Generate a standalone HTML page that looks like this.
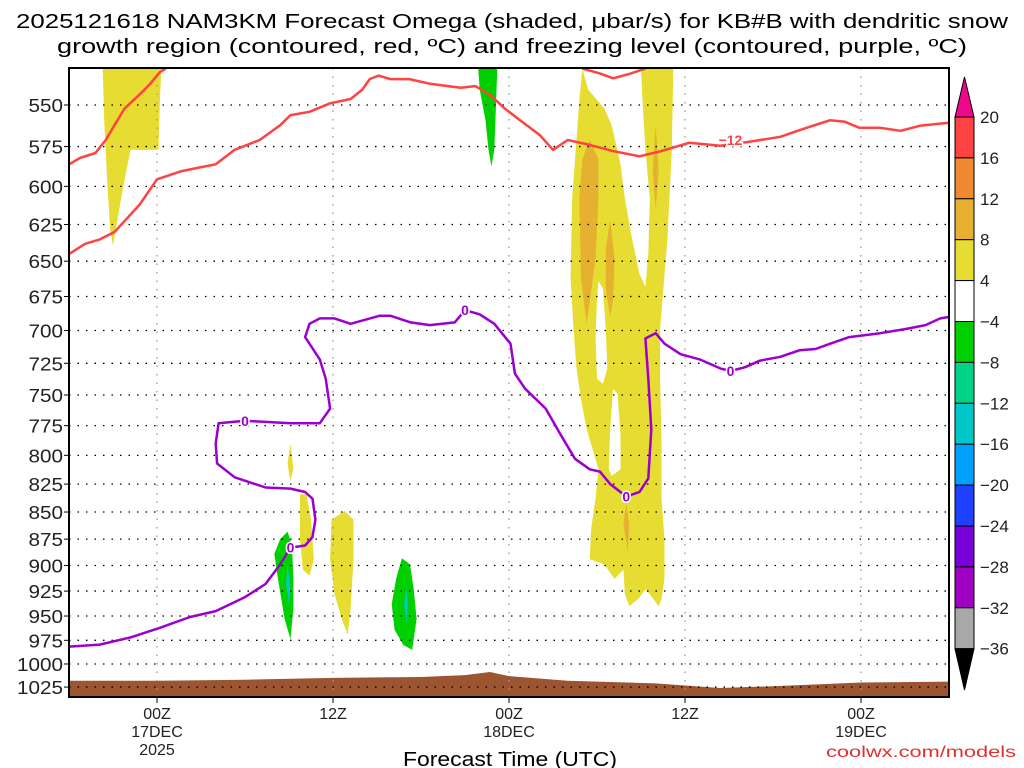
<!DOCTYPE html>
<html><head><meta charset="utf-8"><style>
html,body{margin:0;padding:0;background:#fff}
svg{display:block}
text{font-family:"Liberation Sans",sans-serif}
</style></head><body>
<svg id="chart" width="1024" height="768" xmlns="http://www.w3.org/2000/svg">
<text x="512" y="28" text-anchor="middle" font-size="20" textLength="992" lengthAdjust="spacingAndGlyphs">2025121618 NAM3KM Forecast Omega (shaded, μbar/s) for KB#B with dendritic snow</text>
<text x="512" y="53" text-anchor="middle" font-size="20" textLength="910" lengthAdjust="spacingAndGlyphs">growth region (contoured, red, ºC) and freezing level (contoured, purple, ºC)</text>
<g id="shade"></g>
<g id="grid"></g>
<g id="lines"></g>
<g id="axes"></g>
<g id="cbar"></g>
<text x="510" y="766" text-anchor="middle" font-size="20" textLength="214" lengthAdjust="spacingAndGlyphs">Forecast Time (UTC)</text>
<text x="1016" y="757" text-anchor="end" font-size="16" fill="#e03030" textLength="190" lengthAdjust="spacingAndGlyphs">coolwx.com/models</text>
</svg>
<script>
// ---- data ----
const pressureTicks=[550,575,600,625,650,675,700,725,750,775,800,825,850,875,900,925,950,975,1000,1025];
const timeTicks=[6,18,30,42,54];
const timeLabels=[["00Z","17DEC","2025"],["12Z"],["00Z","18DEC"],["12Z"],["00Z","19DEC"]];
const cbarLevels=[20,16,12,8,4,-4,-8,-12,-16,-20,-24,-28,-32,-36];
const cbarColors=["#ff4242","#f08a30","#e6b030","#e6dc32","#ffffff","#00d000","#00d488","#00c8c8","#00a0ff","#2040ff","#7800d8","#a000c0","#a8a8a8"];
const freezingLevel=[[0,981.6],[2.1,979.5],[4.2,972],[6.2,962],[8.25,951],[10,945],[12,931],[13.4,918],[14.4,899],[15.1,883],[16.1,881],[16.6,873],[16.8,857],[16.6,838],[16.1,832],[15.1,829],[13.4,828],[11.3,819],[10.1,807],[10,790],[10.2,773],[12,771],[15.1,773],[17.1,773],[17.8,761],[17.5,737],[17.1,722],[16.1,705],[16.4,695],[17.1,691],[18.1,691],[19.2,695],[21.2,689],[21.9,689],[23.3,694],[24.6,696],[26.3,694],[27,685],[28,688],[29,695],[30.1,710],[30.4,733],[31.1,745],[32.5,761],[33.5,782],[34.5,803],[35.5,812],[36.2,814],[36.9,825],[38,836],[38.9,832],[39.5,820],[39.7,778],[39.5,737],[39.3,706],[40,702],[40.6,710],[41.7,718],[43,722],[44.4,729],[45.1,731],[46.1,728],[47.1,723],[48.5,720],[49.8,715],[50.9,714],[51.9,710],[53.2,705],[55.3,702],[57,699],[58.4,696],[59.4,691],[60,690]];
const freezingLabels=[[15.1,883],[12,771],[27,685],[38,836],[45.1,731]];
const dgzTop=[[0,586],[0.75,582],[1.8,579],[2.5,571],[3.1,562],[3.8,552],[4.8,544],[5.5,538],[6.2,531],[6.6,529]];
const dgzMain=[[0,645],[1.1,638],[2.1,635],[3.1,630],[4.8,612],[6,595.5],[7.6,590.5],[8.9,588],[10,586],[11.3,577],[13,571],[14.4,562],[15.1,556],[16.4,554],[17.8,549],[19.2,546.5],[20,541],[20.5,535],[21.1,533],[21.9,535],[23.2,535],[24.6,537.6],[26.7,540],[27.7,539],[28.7,544],[29.7,552],[30.75,559],[32.1,568],[33,577],[34,571],[35.5,574],[37.2,578],[38.9,581],[40.3,578],[42.3,572.6],[44.4,574.5],[46.4,572],[48.5,569],[49.8,565],[51.2,561],[51.9,559],[52.9,560],[53.9,563.6],[55.3,563.6],[56.7,565.4],[58,562.4],[60,560.6]];
const dgzDip=[[35,529],[36.2,531.7],[37.1,534.5],[38.2,532],[39.3,529]];
const dgzLabels=[[45.1,571]];
const terrainHours=[0,6,12,18,24,27,28.7,30,34,40,44.4,48,54,60];
const terrainPres=[1018,1018,1017,1015,1014,1012,1008.6,1013,1018,1021,1026,1024,1020,1019];
const yellowA=[[2.3,529],[6.3,529],[6.2,547],[6.1,577],[4.2,577],[3.8,595.5],[3.3,621.6],[3,639.4],[2.8,628],[2.6,595.5],[2.4,559]];
const yellowC=[[35,529],[35.4,541],[36.5,552],[37,562],[37.6,586],[37.9,608],[38.4,635],[38.9,659],[39.3,668],[39.5,645],[39.6,608],[39.3,577],[39.1,547],[39,529],[41.2,529],[41.1,577],[40.8,635],[40.3,699],[40.3,737],[40.4,786],[40.4,838],[40.6,875],[40.6,913],[40.4,933],[40.2,940],[39.7,930],[39.3,923],[38.8,933],[38.2,940],[37.9,928],[37.8,904],[37.2,913],[36.5,899],[35.5,894],[35.6,866],[35.9,838],[36.1,812],[35.8,799],[35.3,778],[34.9,753],[34.6,729],[34.4,699],[34.2,662],[34.3,608],[34.6,571],[34.8,547]];
const holeC1=[[36.1,664],[36.4,669],[36.6,699],[36.7,729],[36.4,741],[36,737],[35.9,705],[36,677]];
const holeC2=[[37.1,745],[37.4,749],[37.6,782],[37.6,812],[37,818],[36.8,812],[36.9,778]];
const yellowY1=[[15.1,790],[15.3,812],[15.1,822],[14.9,807]];
const yellowY2=[[15.75,834],[16.2,834],[16.5,857],[16.7,894],[16.4,910],[15.95,904],[15.75,875]];
const yellowY3=[[17.9,857],[18.8,849],[19.4,857],[19.4,894],[19.2,943],[19,969],[18.6,953],[18.1,928],[17.8,894]];
const orange1=[[35.5,571],[36.1,583],[36.1,608],[35.9,648],[35.3,695],[34.9,662],[34.8,608],[35,583]];
const orange2=[[36.9,622],[37.2,648],[37.1,677],[36.9,690],[36.6,669],[36.6,641]];
const orange3=[[40,562],[40.2,590.5],[40,615],[39.8,590.5]];
const orange4=[[38,843],[38.2,861],[38.1,886],[37.8,861]];
const greenB=[[27.9,529],[29.2,529],[29.1,553],[29,577],[28.8,587.4],[28.6,577],[28.4,559],[28,541]];
const greenG1=[[14.4,875],[14.9,868],[15.2,880],[15.3,913],[15.3,943],[15.1,974],[14.7,953],[14.25,913],[14,889]];
const greenG2=[[22.7,893],[23.25,899],[23.5,923],[23.7,953],[23.4,985],[22.8,980],[22.2,964],[22,938],[22.3,913]];
const teal1=[[14.9,899],[15.1,923],[15,938],[14.8,918]];
const teal2=[[23,923],[23.1,938],[23.05,958],[22.85,938]];

// ---- axes ----
const X0=69,X1=949,Y0=68,Y1=697;
const xs=h=>X0+(h/60)*(X1-X0);
const ys=p=>105+935*Math.log(p/550);
const NS="http://www.w3.org/2000/svg";
function mk(tag,attrs,parent){const e=document.createElementNS(NS,tag);for(const k in attrs)e.setAttribute(k,attrs[k]);parent.appendChild(e);return e;}
const pts=a=>a.map(d=>xs(d[0]).toFixed(1)+","+ys(d[1]).toFixed(1)).join(" ");

const shade=document.getElementById('shade');
function poly(arr,fill,name){const e=mk('polygon',{points:pts(arr),fill:fill},shade);

}
poly(yellowA,"#e6dc32","omega-region-a");
poly(yellowC,"#e6dc32","omega-region-c");
poly(holeC1,"#ffffff","omega-gap-1");
poly(holeC2,"#ffffff","omega-gap-2");
poly(orange1,"#e6b030","omega-max-1");
poly(orange2,"#e6b030","omega-max-2");
poly(orange3,"#e6b030","omega-max-3");
poly(orange4,"#e6b030","omega-max-4");
poly(yellowY1,"#e6dc32","omega-region-y1");
poly(yellowY2,"#e6dc32","omega-region-y2");
poly(yellowY3,"#e6dc32","omega-region-y3");
poly(greenB,"#00d000","omega-negative-b");
poly(greenG1,"#00d000","omega-negative-g1");
poly(greenG2,"#00d000","omega-negative-g2");
poly(teal1,"#00c8c8","omega-negative-t1");
poly(teal2,"#00c8c8","omega-negative-t2");
let tp=terrainHours.map((h,i)=>[h,terrainPres[i]]);
const terr=mk('polygon',{points:xs(0)+","+Y1+" "+pts(tp)+" "+xs(60)+","+Y1,fill:"#9c5530"},shade);



const grid=document.getElementById('grid');
pressureTicks.forEach(p=>{const l=mk('line',{x1:X0,x2:X1,y1:ys(p),y2:ys(p),stroke:"#000","stroke-width":1.3,"stroke-dasharray":"1.5,7"},grid);

});
timeTicks.forEach(h=>{const l=mk('line',{x1:xs(h),x2:xs(h),y1:Y0,y2:Y1,stroke:"#999","stroke-width":1.3,"stroke-dasharray":"1.5,7"},grid);

});

const lines=document.getElementById('lines');
function pl(arr,col,name){const e=mk('polyline',{points:pts(arr),fill:"none",stroke:col,"stroke-width":2.5,"stroke-linejoin":"round"},lines);

}
pl(dgzTop,"#ff4242","dgz-contour-upper");
pl(dgzMain,"#ff4242","dgz-contour-main");
pl(dgzDip,"#ff4242","dgz-contour-top");
pl(freezingLevel,"#9b00d0","freezing-level-contour");
freezingLabels.forEach(d=>{const t=mk('text',{x:xs(d[0]),y:ys(d[1])+5,"text-anchor":"middle","font-size":14,"font-weight":"bold",fill:"#9b00d0",stroke:"#fff","stroke-width":3,"paint-order":"stroke"},lines);t.textContent="0";

});
dgzLabels.forEach(d=>{const t=mk('text',{x:xs(d[0]),y:ys(d[1])+5,"text-anchor":"middle","font-size":14,"font-weight":"bold",fill:"#ff4242",stroke:"#fff","stroke-width":3,"paint-order":"stroke"},lines);t.textContent="−12";

});

const axes=document.getElementById('axes');
const fr=mk('rect',{x:X0,y:Y0,width:X1-X0,height:Y1-Y0,fill:"none",stroke:"#000","stroke-width":2},axes);


pressureTicks.forEach(p=>{const t=mk('text',{x:63,y:ys(p)+7,"text-anchor":"end","font-size":18,fill:"#222",textLength:(String(p).length*11.5),lengthAdjust:"spacingAndGlyphs"},axes);t.textContent=p;


mk('line',{x1:X0-5,x2:X0,y1:ys(p),y2:ys(p),stroke:"#000","stroke-width":1},axes);});
timeTicks.forEach((h,i)=>{timeLabels[i].forEach((s,j)=>{const t=mk('text',{x:xs(h),y:719+j*18,"text-anchor":"middle","font-size":16,fill:"#222"},axes);t.textContent=s;

});
mk('line',{x1:xs(h),x2:xs(h),y1:Y1,y2:Y1+6,stroke:"#000","stroke-width":1},axes);});

const cb=document.getElementById('cbar');
const cbY=i=>117+i*40.9;
cbarColors.forEach((c,i)=>{const r=mk('rect',{x:955,y:cbY(i),width:19,height:40.9,fill:c,stroke:"#000","stroke-width":1},cb);

});
const tt=mk('polygon',{points:"955,117 974,117 964.5,77",fill:"#f0088c",stroke:"#000","stroke-width":1},cb);


const bt=mk('polygon',{points:"955,"+cbY(13)+" 974,"+cbY(13)+" 964.5,690",fill:"#000",stroke:"#000","stroke-width":1},cb);


cbarLevels.forEach((v,i)=>{const t=mk('text',{x:980,y:cbY(i)+6,"font-size":17,fill:"#222"},cb);t.textContent=(v<0?"−"+(-v):v);

});
</script>
</body></html>
